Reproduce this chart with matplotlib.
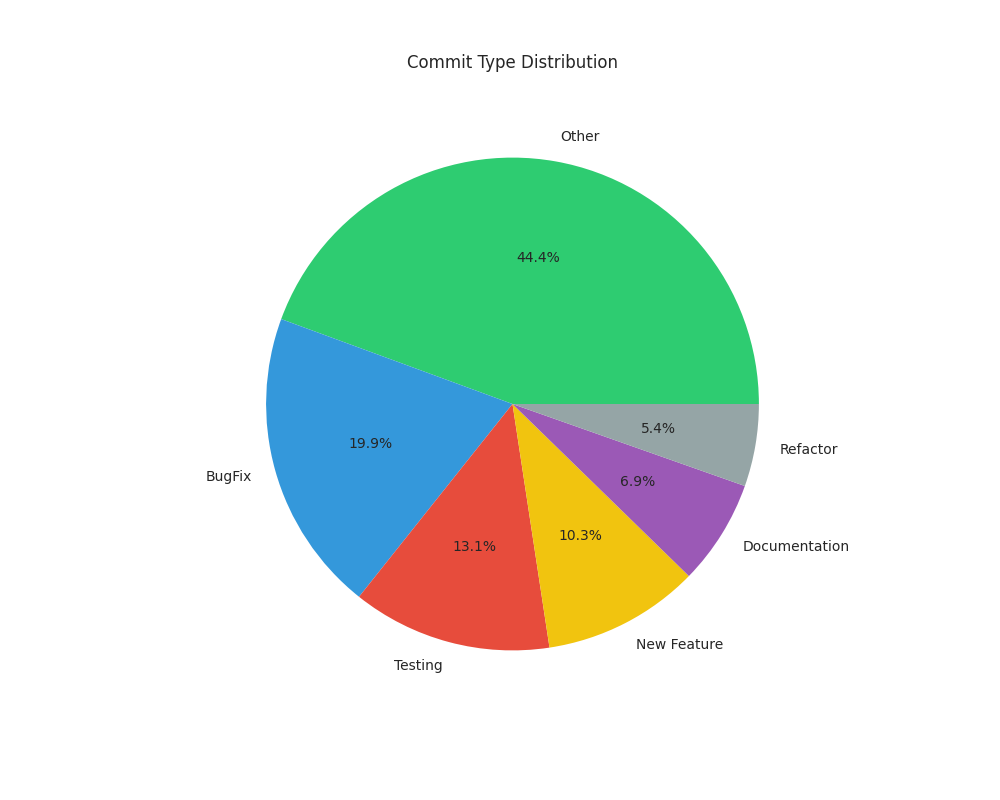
import matplotlib
matplotlib.use("Agg")
import matplotlib.pyplot as plt

# commit type shares (percent)
labels = ["Other", "BugFix", "Testing", "New Feature", "Documentation", "Refactor"]
shares = [44.4, 19.9, 13.1, 10.3, 6.9, 5.4]
colors = ["#2ecc71", "#3498db", "#e74c3c", "#f1c40f", "#9b59b6", "#95a5a6"]

plt.rcParams["text.color"] = "#262626"

fig = plt.figure(figsize=(10, 8), dpi=100)
plt.pie(shares, labels=labels, colors=colors, autopct="%1.1f%%")
plt.title("Commit Type Distribution", fontsize=12, pad=20)
plt.savefig("out.png")
